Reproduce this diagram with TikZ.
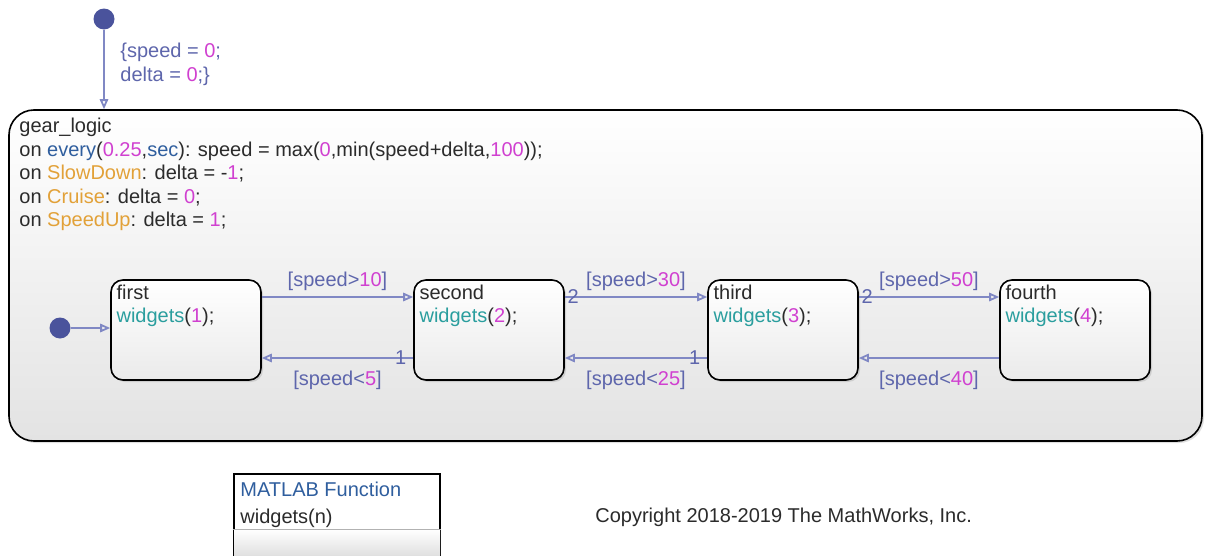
\documentclass[tikz,border=0pt]{standalone}
\usepackage{fontspec}
\setmainfont{Liberation Sans}
\usetikzlibrary{arrows.meta,shadows}

\definecolor{transLine}{HTML}{8088C4}
\definecolor{transText}{HTML}{5E66AC}
\definecolor{numText}{HTML}{D040D0}
\definecolor{fcnText}{HTML}{2A9E9E}
\definecolor{evtText}{HTML}{E2A138}
\definecolor{kwText}{HTML}{2F5E9E}
\definecolor{dotFill}{HTML}{4A539C}
\definecolor{bodyText}{HTML}{2B2B2B}

\newcommand{\num}[1]{\textcolor{numText}{#1}}
\newcommand{\evt}[1]{\textcolor{evtText}{#1}}
\newcommand{\kw}[1]{\textcolor{kwText}{#1}}
\newcommand{\fcn}[1]{\textcolor{fcnText}{#1}}

\begin{document}
\begin{tikzpicture}[x=0.5pt,y=-0.5pt,>={Triangle[open,length=5pt,width=4.2pt]},
  every node/.style={font=\fontsize{10}{11.75}\selectfont,text=bodyText},
  chart/.style={draw=black,line width=0.8pt,top color=white,bottom color=black!11,
    drop shadow={opacity=0.25,shadow xshift=1pt,shadow yshift=-1pt},inner sep=0pt},
  state/.style={chart,rounded corners=6pt,bottom color=black!8,minimum width=75pt,minimum height=50pt},
  stext/.style={anchor=north west,align=left,inner sep=0pt},
  trans/.style={draw=transLine,line width=0.9pt,->},
  cond/.style={text=transText,inner sep=2.5pt},
  order/.style={text=transText,inner sep=1pt},
  initdot/.style={circle,fill=dotFill,inner sep=0pt,minimum size=10.5pt}]
\useasboundingbox[fill=white] (0,0) rectangle (1205,557);

% Superstate with its actions
\node[chart,rounded corners=12.5pt,minimum width=596.5pt,minimum height=165.5pt] (gear) at (605.5,275.5) {};
\node[stext] (gearTxt) at (19,118) {gear\_logic\\
  on \kw{every}(\num{0.25},\kw{sec}): speed = max(\num{0},min(speed+delta,\num{100}));\\
  on \evt{SlowDown}: delta = -\num{1};\\
  on \evt{Cruise}: delta = \num{0};\\
  on \evt{SpeedUp}: delta = \num{1};};

% Top default transition
\node[initdot] (topInit) at (104,19) {};
\draw[trans] (topInit) -- (topInit |- gear.north);
\node[stext,text=transText] (topAct) at (120,43) {\{speed = \num{0};\\delta = \num{0};\}};

% Gear states
\foreach \nm/\cx/\k in {first/186/1,second/489/2,third/783/3,fourth/1075/4}{
  \node[state] (\nm) at (\cx,330) {};
  \node[stext] (\nm Txt) at ([xshift=3pt,yshift=-2.6pt]\nm.north west) {\nm\\\fcn{widgets}(\num{\k});};
}

% Inner default transition
\node[initdot] (innerInit) at (60,328) {};
\draw[trans] (innerInit) -- (innerInit -| first.west);

% Shift up
\draw[trans] ([yshift=16.5pt]first.east) -- node[cond,above]{[speed>\num{10}]} ([yshift=16.5pt]second.west);
\draw[trans] ([yshift=16.5pt]second.east) node[order,anchor=west]{2} -- node[cond,above]{[speed>\num{30}]} ([yshift=16.5pt]third.west);
\draw[trans] ([yshift=16.5pt]third.east) node[order,anchor=west]{2} -- node[cond,above]{[speed>\num{50}]} ([yshift=16.5pt]fourth.west);
% Shift down
\draw[trans] ([yshift=-14pt]second.west) node[order,anchor=east,xshift=-2pt]{1} -- node[cond,below,yshift=-3.5pt]{[speed<\num{5}]} ([yshift=-14pt]first.east);
\draw[trans] ([yshift=-14pt]third.west) node[order,anchor=east,xshift=-2pt]{1} -- node[cond,below,yshift=-3.5pt]{[speed<\num{25}]} ([yshift=-14pt]second.east);
\draw[trans] ([yshift=-14pt]fourth.west) -- node[cond,below,yshift=-3.5pt]{[speed<\num{40}]} ([yshift=-14pt]third.east);

% MATLAB function block
\node[draw=black,line width=1.4pt,minimum width=103pt,minimum height=40.5pt,inner sep=0pt,fill=white] (fcnBlock) at (337,514.5) {};
\shade[top color=white,bottom color=black!12] ([xshift=0.7pt,yshift=13.5pt]fcnBlock.south west) rectangle ([xshift=-0.7pt,yshift=0.7pt]fcnBlock.south east);
\draw[black!30,line width=0.5pt] ([yshift=13.5pt]fcnBlock.south west) -- ([yshift=13.5pt]fcnBlock.south east);
\node[stext,text=kwText] (fcnHead) at (240,482) {MATLAB Function};
\node[stext] (fcnSig) at (240,509) {widgets(n)};

\node[anchor=west,inner sep=0pt] (copy) at (595,517) {Copyright 2018-2019 The MathWorks, Inc.};
\end{tikzpicture}
\end{document}
